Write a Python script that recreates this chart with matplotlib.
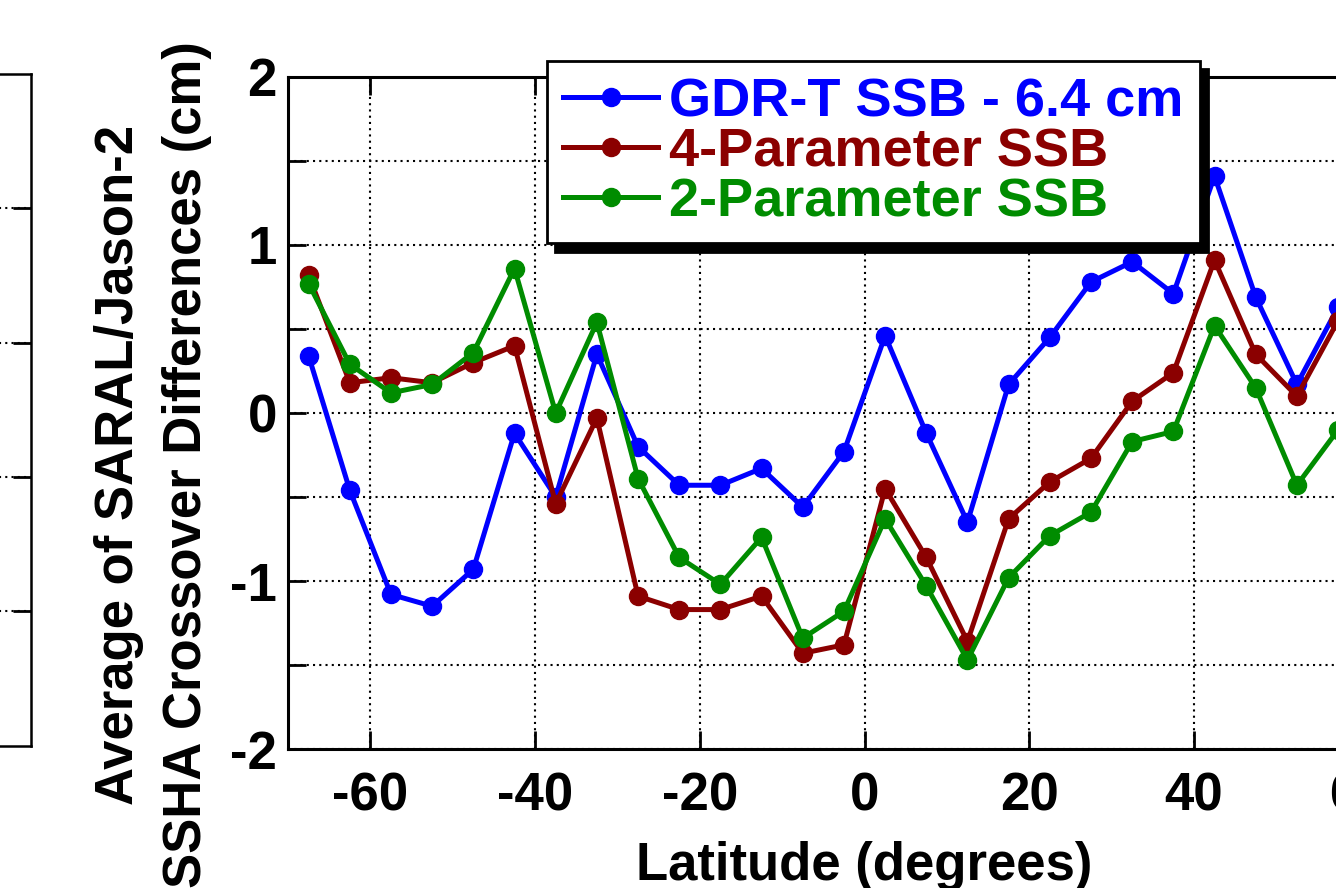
import matplotlib
matplotlib.use("Agg")
import matplotlib.pyplot as plt
from matplotlib.ticker import MultipleLocator, FuncFormatter

plt.rcParams['font.family'] = ['Liberation Sans', 'DejaVu Sans']
plt.rcParams['font.weight'] = 'bold'
plt.rcParams['axes.unicode_minus'] = False

# 5-degree latitude bins (only the visible part of the panel)
lat = [-67.5, -62.5, -57.5, -52.5, -47.5, -42.5, -37.5, -32.5, -27.5, -22.5,
       -17.5, -12.5, -7.5, -2.5, 2.5, 7.5, 12.5, 17.5, 22.5, 27.5,
       32.5, 37.5, 42.5, 47.5, 52.5, 57.5]

gdr_t = [0.34, -0.46, -1.08, -1.15, -0.93, -0.12, -0.50, 0.35, -0.20, -0.43,
         -0.43, -0.33, -0.56, -0.23, 0.46, -0.12, -0.65, 0.17, 0.45, 0.78,
         0.90, 0.71, 1.41, 0.69, 0.17, 0.63]
four_param = [0.82, 0.18, 0.21, 0.18, 0.30, 0.40, -0.54, -0.03, -1.09, -1.17,
              -1.17, -1.09, -1.43, -1.38, -0.45, -0.86, -1.36, -0.63, -0.41, -0.27,
              0.07, 0.24, 0.91, 0.35, 0.10, 0.55]
two_param = [0.77, 0.29, 0.12, 0.17, 0.36, 0.86, 0.00, 0.54, -0.39, -0.86,
             -1.02, -0.74, -1.34, -1.18, -0.63, -1.03, -1.47, -0.98, -0.73, -0.59,
             -0.17, -0.11, 0.52, 0.15, -0.43, -0.10]

series = [(gdr_t, "#0000ff", "GDR-T SSB - 6.4 cm"),
          (four_param, "#8b0000", "4-Parameter SSB"),
          (two_param, "#008c00", "2-Parameter SSB")]

fig = plt.figure(figsize=(13.36, 8.88), dpi=100)

# neighbouring panel, only its right edge is in view
axl = fig.add_axes([-0.5, 0.160, 0.5232, 0.757])
axl.set_xlim(0, 1)
axl.set_ylim(0, 5)
axl.set_xticks([])
axl.set_yticks([1, 2, 3, 4])
axl.tick_params(axis='y', direction='in', left=False, right=True,
                labelleft=False, length=13, width=2)
axl.yaxis.grid(True, color='black', linestyle=(0, (1, 2)), linewidth=1.5)
for s in axl.spines.values():
    s.set_linewidth(1.8)

ax = fig.add_axes([0.2156, 0.1565, 0.863, 0.7568])
for vals, col, name in series:
    ax.plot(lat, vals, '-o', color=col, lw=3.6, ms=13, label=name)

ax.set_xlim(-70, 70)
ax.set_ylim(-2, 2)
ax.xaxis.set_major_locator(MultipleLocator(20))
ax.yaxis.set_major_locator(MultipleLocator(0.5))
ax.yaxis.set_major_formatter(
    FuncFormatter(lambda v, p: str(int(round(v))) if abs(v - round(v)) < 1e-6 else ''))
ax.tick_params(direction='in', length=13, width=2, top=True, right=True, labelsize=38)
ax.tick_params(axis='x', pad=16)
ax.tick_params(axis='y', pad=8)
ax.grid(True, color='black', linestyle=(0, (1, 2)), linewidth=1.5)
for s in ax.spines.values():
    s.set_linewidth(2.2)

ax.set_xlabel('Latitude (degrees)', fontsize=38, fontweight='bold', labelpad=14)
fig.text(153 / 1336, 1 - 465 / 888,
         'Average of SARAL/Jason-2\nSSHA Crossover Differences (cm)',
         rotation=90, ha='center', va='center', fontsize=38, fontweight='bold',
         linespacing=1.45, multialignment='center')

leg = ax.legend(loc='upper left', bbox_to_anchor=(547 / 1336, 1 - 61 / 888),
                bbox_transform=fig.transFigure, borderaxespad=0,
                prop={'size': 39, 'weight': 'bold'}, labelcolor='linecolor',
                fancybox=False, framealpha=1, edgecolor='black',
                handlelength=1.75, handletextpad=0.2, labelspacing=0.0,
                borderpad=0.3,
                shadow={'ox': 6, 'oy': -6, 'color': 'black', 'alpha': 1})
leg.get_frame().set_linewidth(2)

fig.savefig('out.png', dpi=100)
